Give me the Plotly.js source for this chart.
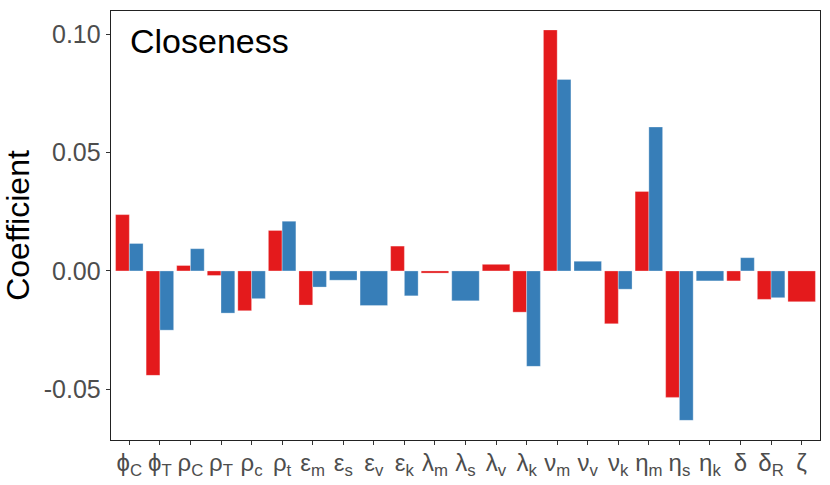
<!DOCTYPE html>
<html>
<head>
<meta charset="utf-8">
<script src="https://cdn.plot.ly/plotly-3.0.1.min.js"></script>
<style>
	body { margin: 0; background: #fff; }
	#chart { width: 830px; height: 485px; }
</style>
</head>
<body>
<div id="chart"></div>
<script>
// Category labels (greek with subscripts)
var categories = ["ϕ<sub>C</sub>", "ϕ<sub>T</sub>", "ρ<sub>C</sub>", "ρ<sub>T</sub>", "ρ<sub>c</sub>", "ρ<sub>t</sub>",
	"ε<sub>m</sub>", "ε<sub>s</sub>", "ε<sub>v</sub>", "ε<sub>k</sub>",
	"λ<sub>m</sub>", "λ<sub>s</sub>", "λ<sub>v</sub>", "λ<sub>k</sub>",
	"ν<sub>m</sub>", "ν<sub>v</sub>", "ν<sub>k</sub>",
	"η<sub>m</sub>", "η<sub>s</sub>", "η<sub>k</sub>",
	"δ", "δ<sub>R</sub>", "ζ"];

// Red series (null = not present)
var redValues = [0.0238, -0.0441, 0.0023, -0.0019, -0.0168, 0.0171,
	-0.0144, null, null, 0.0105,
	-0.0009, null, 0.0028, -0.0174,
	0.1018, null, -0.0223,
	0.0336, -0.0534, null,
	-0.0042, -0.0120, -0.0130];

// Blue series
var blueValues = [0.0116, -0.0250, 0.0094, -0.0178, -0.0117, 0.0210,
	-0.0068, -0.0039, -0.0146, -0.0105,
	null, -0.0126, null, -0.0403,
	0.0809, 0.0041, -0.0077,
	0.0608, -0.0631, -0.0042,
	0.0056, -0.0113, null];

var yTickVals = [-0.05, 0, 0.05, 0.10];
var yTickText = ["-0.05", "0.00", "0.05", "0.10"];

var xPos = categories.map(function (c, i) { return i + 1; });

// dodge: half width when both present, full width when alone
var redWidth = [], redOffset = [], blueWidth = [], blueOffset = [];
for (var i = 0; i < categories.length; i++) {
	var both = redValues[i] !== null && blueValues[i] !== null;
	redWidth.push(both ? 0.45 : 0.9);
	redOffset.push(-0.45);
	blueWidth.push(both ? 0.45 : 0.9);
	blueOffset.push(both ? 0 : -0.45);
}

var red = {
	x: xPos,
	y: redValues,
	type: 'bar',
	width: redWidth,
	offset: redOffset,
	marker: { color: '#E41A1C', line: { color: 'rgba(255,255,255,0.5)', width: 0.6 } },
	hoverinfo: 'y'
};

var blue = {
	x: xPos,
	y: blueValues,
	type: 'bar',
	width: blueWidth,
	offset: blueOffset,
	marker: { color: '#377EB8', line: { color: 'rgba(255,255,255,0.5)', width: 0.6 } },
	hoverinfo: 'y'
};

var layout = {
	width: 830,
	height: 485,
	margin: { l: 111, r: 10, t: 11, b: 45 },
	paper_bgcolor: '#fff',
	plot_bgcolor: '#fff',
	showlegend: false,
	barmode: 'overlay',
	font: { family: 'Liberation Sans, Arial, sans-serif', color: '#4d4d4d' },
	xaxis: {
		range: [0.4, 23.6],
		tickvals: xPos,
		ticktext: categories,
		tickfont: { size: 24, color: '#4d4d4d' },
		ticks: 'outside', ticklen: 4, tickcolor: '#333', tickwidth: 1,
		ticklabelstandoff: -3,
		showgrid: false, zeroline: false,
		showline: true, mirror: true, linecolor: '#222', linewidth: 1.3,
		tickangle: 0,
		fixedrange: true
	},
	yaxis: {
		range: [-0.0714, 0.1098],
		tickvals: yTickVals,
		ticktext: yTickText,
		tickfont: { size: 25, color: '#4d4d4d' },
		ticks: 'outside', ticklen: 4, tickcolor: '#333', tickwidth: 1,
		showgrid: false, zeroline: false,
		showline: true, mirror: true, linecolor: '#222', linewidth: 1.3,
		title: { text: 'Coefficient', font: { size: 32, color: '#000' }, standoff: 6 },
		fixedrange: true
	},
	annotations: [{
		text: 'Closeness',
		xref: 'paper', yref: 'paper',
		x: 0.024, y: 0.98,
		xanchor: 'left', yanchor: 'top',
		showarrow: false,
		font: { size: 34, color: '#000' }
	}]
};

Plotly.newPlot('chart', [red, blue], layout, { displayModeBar: false, staticPlot: true });
</script>
</body>
</html>
